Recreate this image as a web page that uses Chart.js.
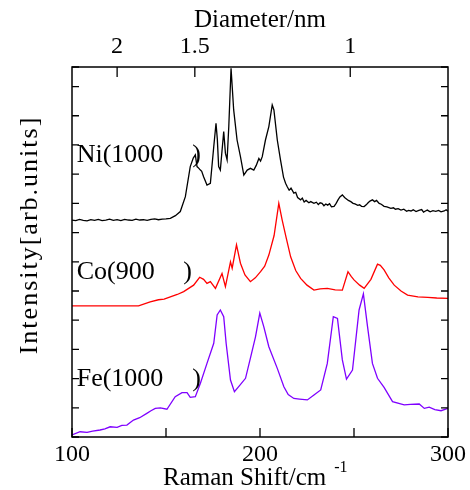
<!DOCTYPE html>
<html>
<head>
<meta charset="utf-8">
<script src="https://cdn.jsdelivr.net/npm/chart.js@4.4.0/dist/chart.umd.min.js"></script>
<style>
  html, body { margin: 0; padding: 0; background: #fff; }
  canvas { display: block; }
</style>
</head>
<body>
<canvas id="chart" width="470" height="490"></canvas>
<script>
// Raman spectra (RBM region) · three catalysts, offset vertically

const SERIF = '"Liberation Serif", "Times New Roman", serif';

// ── data ───────────────────────────────────────────────────────────────
const NI_SHIFT = [100, 102, 104, 106, 108, 110, 112, 114, 116, 118, 120, 122, 124, 126, 128, 130, 132, 134, 136, 138, 140, 142, 144, 146, 148, 150,
  152.3, 155, 157.6, 160.3, 162.9, 164.5, 165.6,
  166.5, 167.5, 168.3, 169, 170, 171.8, 173.6, 175.4, 176.6, 177.3, 178, 178.9, 180.7, 181.6, 182.5, 183.4, 184.6, 186, 187.8, 189.6,
  191.4, 193.2, 194.9, 196.7, 198, 199.4, 200.3, 201.2, 202.9, 204.7, 206.5, 207.4, 209.2, 210.9, 212.5, 213.6,
  214.5, 215.5, 216.5, 218, 219, 220, 221.6, 222.5, 223.5, 224.5, 226, 227, 228.7, 230, 231, 232, 233, 234, 235, 236, 237, 238, 239.4,
  240.5, 241.5, 242.5, 243.8, 245, 246, 247, 248.3, 249.5, 250.5, 252, 253, 254, 255.4, 256.5, 257.5, 258.5, 259.8, 261, 262, 263.4,
  264.5, 266, 267.5, 269.6, 271, 272, 273.5, 275, 276.5, 278, 279, 280.3, 281.5, 283, 284.5, 286, 287, 288, 289, 290.5, 292, 293.5,
  295, 296.3, 298, 299, 300];
const NI_INT = [7.43, 7.41, 7.45, 7.42, 7.40, 7.44, 7.42, 7.45, 7.41, 7.43, 7.46, 7.42, 7.44, 7.41, 7.45, 7.43, 7.42, 7.46, 7.43, 7.44, 7.42, 7.45, 7.47, 7.44, 7.46, 7.47,
  7.49, 7.58, 7.72, 8.23, 9.26, 9.55, 9.66,
  9.26, 9.2, 9.14, 9.1, 8.91, 8.63, 8.69, 9.94, 10.74, 10.2, 9.26, 9.14, 10.46, 9.72, 9.49, 10.63, 12.63, 11.2, 10.17, 9.6,
  8.97, 9.14, 9.2, 9.14, 9.3, 9.54, 9.45, 9.6, 10.17, 10.63, 11.37, 11.2, 10.17, 9.49, 8.9, 8.69,
  8.57, 8.45, 8.52, 8.35, 8.38, 8.2, 8.12, 8.18, 8.05, 8.1, 8.02, 8.06, 8.0, 8.04, 7.96, 8.02, 8.0, 7.92, 7.98, 7.94, 7.99, 7.88, 7.9,
  8.0, 8.12, 8.22, 8.29, 8.2, 8.15, 8.1, 8.06, 8.0, 7.98, 7.93, 7.95, 7.9, 7.89, 7.95, 8.02, 8.08, 8.12, 8.06, 8.1, 8.0,
  7.97, 7.9, 7.88, 7.83, 7.85, 7.8, 7.82, 7.77, 7.8, 7.73, 7.76, 7.74, 7.78, 7.72, 7.76, 7.79, 7.7, 7.74, 7.77, 7.71, 7.75, 7.73,
  7.76, 7.71, 7.74, 7.78, 7.73];

const CO_SHIFT = [100, 135.4, 141.6, 146, 149, 152.3, 156, 159.4, 164.7, 167.9, 170, 171.8, 173.6, 176.3, 179.8, 181.6, 184.3, 185.2,
  187.5, 189.6, 192, 194.9, 197.5, 200.3, 202.5, 204.7, 207.5, 210, 211.8, 214, 216.3, 219, 221.6, 225, 228.7, 232, 235.8, 240,
  243.8, 246.8, 248.5, 250, 253, 255.4, 259, 262.5, 264, 266, 268.5, 271.4, 275, 278.5, 284, 289.2, 294, 300];
const CO_INT = [4.49, 4.49, 4.63, 4.7, 4.72, 4.8, 4.88, 4.98, 5.2, 5.47, 5.4, 5.26, 5.32, 5.09, 5.6, 5.15, 6.0, 5.78,
  6.58, 5.95, 5.55, 5.32, 5.45, 5.66, 5.85, 6.23, 6.9, 8.0, 7.43, 6.8, 6.17, 5.7, 5.43, 5.2, 5.03, 5.07, 5.09, 5.04,
  5.03, 5.66, 5.5, 5.38, 5.2, 5.09, 5.4, 5.92, 5.88, 5.72, 5.45, 5.2, 5.0, 4.86, 4.8, 4.78, 4.76, 4.75];

const FE_SHIFT = [100, 104.3, 108, 111, 114.9, 117.5, 120.3, 124, 126.5, 129.2, 132.7, 136, 139.8, 142, 144.3, 147, 150.5, 154.9, 158.5,
  161.2, 162.9, 165.6, 168.3, 171.8, 175.4, 177.2, 178.9, 180.7, 182, 184.3, 186.4, 189, 192.3, 194.9, 197.6, 199.9, 202, 204.7,
  209.2, 212.7, 215, 218, 221, 225.2, 228.7, 232.3, 235.8, 239, 241.2, 243.8, 246, 249.2, 252.7, 255, 257.2, 259.8, 262.5,
  266, 270.5, 276.7, 280, 284.7, 287.4, 290, 293, 296.3, 300];
const FE_INT = [0.07, 0.18, 0.16, 0.2, 0.24, 0.28, 0.35, 0.33, 0.4, 0.41, 0.58, 0.66, 0.81, 0.9, 0.98, 1.0, 0.95, 1.38, 1.52,
  1.52, 1.36, 1.38, 1.84, 2.52, 3.21, 4.18, 4.35, 4.12, 3.2, 1.95, 1.55, 1.75, 2.01, 2.7, 3.43, 4.24, 3.78, 3.09,
  2.35, 1.72, 1.45, 1.32, 1.3, 1.27, 1.44, 1.61, 2.52, 4.12, 4.06, 2.64, 1.98, 2.29, 4.35, 4.9, 3.78, 2.52, 2.01,
  1.7, 1.21, 1.1, 1.12, 1.13, 0.98, 1.02, 0.94, 0.9, 0.98];

const SERIES = [
  { label: "Ni(1000", xs: NI_SHIFT, ys: NI_INT, color: "#000000" },
  { label: "Co(900",  xs: CO_SHIFT, ys: CO_INT, color: "#ff0000" },
  { label: "Fe(1000", xs: FE_SHIFT, ys: FE_INT, color: "#7f00ff" },
];

// sample labels: text start, baseline, closing paren (data coords)
const LABEL_X = [102.5, 102.5, 102.5];
const LABEL_Y = [9.42, 5.41, 1.75];
const PAREN_X = [164, 159.2, 164];

// axes
const SHIFT_MIN = 100, SHIFT_MAX = 300, SHIFT_STEP = 50;
const SHIFT_LABELED = [100, 200, 300];
const DIAMETER_TICKS = [2, 1.5, 1];   // nm, shift = 248 / d
const RBM_CONST = 248;
const INT_MIN = 0, INT_MAX = 12.67;

// ── 内向刻度 + 边框 + 标题 ────────────────────────────────────────────────
const framePlugin = {
  id: "frame",
  afterDraw(chart) {
    const { ctx, chartArea: a, scales } = chart;
    ctx.save();
    ctx.strokeStyle = "#000";
    ctx.lineWidth = 1.5;
    ctx.strokeRect(a.left, a.top, a.right - a.left, a.bottom - a.top);

    ctx.lineWidth = 1.3;
    ctx.beginPath();
    scales.x.ticks.forEach(t => {
      const px = scales.x.getPixelForValue(t.value);
      ctx.moveTo(px, a.bottom); ctx.lineTo(px, a.bottom - 9);
    });
    scales.xTop.ticks.forEach(t => {
      const px = scales.xTop.getPixelForValue(t.value);
      ctx.moveTo(px, a.top); ctx.lineTo(px, a.top + 10);
    });
    scales.y.ticks.forEach(t => {
      const py = scales.y.getPixelForValue(t.value);
      ctx.moveTo(a.left, py); ctx.lineTo(a.left + 7, py);
      ctx.moveTo(a.right, py); ctx.lineTo(a.right - 7, py);
    });
    ctx.stroke();

    // sample labels
    ctx.fillStyle = "#000";
    ctx.font = `26px ${SERIF}`;
    ctx.textBaseline = "alphabetic";
    ctx.textAlign = "left";
    SERIES.forEach((s, i) => {
      const py = scales.y.getPixelForValue(LABEL_Y[i]);
      ctx.fillText(s.label, scales.x.getPixelForValue(LABEL_X[i]), py);
      ctx.fillText(")", scales.x.getPixelForValue(PAREN_X[i]), py);
    });

    // axis titles
    const cx = (a.left + a.right) / 2;
    ctx.font = `25px ${SERIF}`;
    ctx.textAlign = "center";
    ctx.fillText("Diameter/nm", cx, 27);

    ctx.textAlign = "left";
    const main = "Raman Shift/cm";
    const w = ctx.measureText(main).width;
    const x0 = 163;
    ctx.fillText(main, x0, 485);
    ctx.font = `16px ${SERIF}`;
    ctx.fillText("-1", x0 + w + 8, 472);

    ctx.translate(30, 235);
    ctx.rotate(-Math.PI / 2);
    ctx.font = `26px ${SERIF}`;
    ctx.textAlign = "center";
    ctx.textBaseline = "middle";
    ctx.letterSpacing = "2px";
    ctx.fillText("Intensity[arb.units]", 0, 0);
    ctx.restore();
  },
};

const tickFont = { family: SERIF, size: 24 };

new Chart(document.getElementById("chart"), {
  type: "line",
  data: {
    datasets: SERIES.map(s => ({
      label: s.label,
      data: s.xs.map((x, i) => ({ x, y: s.ys[i] })),
      borderColor: s.color,
      borderWidth: 1.3,
      pointRadius: 0,
      tension: 0,
      fill: false,
    })),
  },
  options: {
    responsive: false,
    animation: false,
    devicePixelRatio: 1,
    layout: { padding: { left: 72, right: 22, top: 26.2, bottom: 18.2 } },
    plugins: { legend: { display: false }, tooltip: { enabled: false } },
    scales: {
      x: {
        type: "linear", position: "bottom",
        min: SHIFT_MIN, max: SHIFT_MAX,
        grid: { display: false, drawTicks: false },
        border: { display: false },
        ticks: {
          stepSize: SHIFT_STEP, color: "#000", font: tickFont, padding: 3, maxRotation: 0,
          callback: v => SHIFT_LABELED.includes(v) ? String(v) : "",
        },
      },
      xTop: {
        type: "linear", position: "top",
        min: SHIFT_MIN, max: SHIFT_MAX,
        grid: { display: false, drawTicks: false },
        border: { display: false },
        afterBuildTicks: scale => {
          scale.ticks = DIAMETER_TICKS.map(d => ({ value: RBM_CONST / d, label: String(d) }));
        },
        ticks: {
          color: "#000", font: tickFont, padding: 6, maxRotation: 0, autoSkip: false,
          callback: v => String(+(RBM_CONST / v).toFixed(2)),
        },
      },
      y: {
        type: "linear",
        min: INT_MIN, max: INT_MAX,
        grid: { display: false, drawTicks: false },
        border: { display: false },
        ticks: { display: false, stepSize: 1 },
      },
    },
  },
  plugins: [framePlugin],
});
</script>
</body>
</html>
